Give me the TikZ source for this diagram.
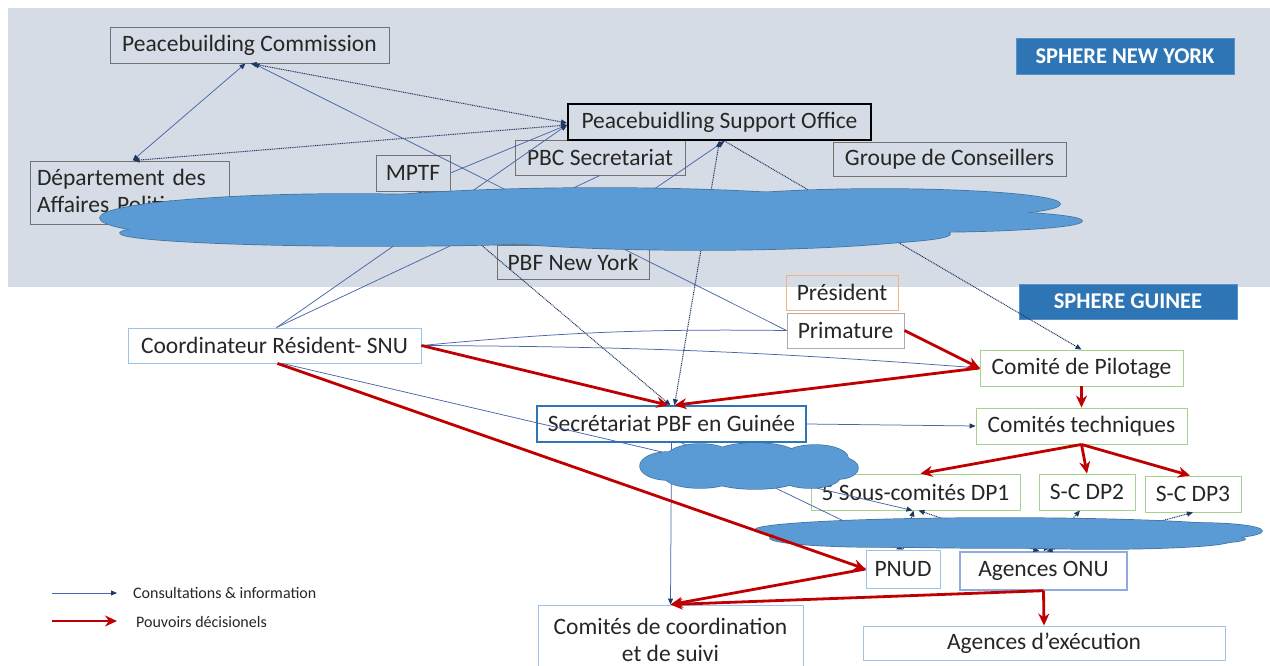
\documentclass[tikz,border=0pt]{standalone}
\usepackage{fontspec}
\setmainfont{Carlito}
\usetikzlibrary{arrows.meta,calc}
\definecolor{bgnav}{HTML}{D6DCE5}
\definecolor{spherefill}{HTML}{2E75B6}
\definecolor{cloudfill}{HTML}{5B9BD5}
\definecolor{cloudline}{HTML}{41719C}
\definecolor{boxgray}{HTML}{767171}
\definecolor{lblue}{HTML}{9DC3E6}
\definecolor{midblue}{HTML}{2E75B6}
\definecolor{onublue}{HTML}{8FAADC}
\definecolor{greenb}{HTML}{A9D18E}
\definecolor{orangeb}{HTML}{F4B183}
\definecolor{decred}{HTML}{C00000}
\definecolor{infoline}{HTML}{4A66A8}
\definecolor{tipnavy}{HTML}{1F3864}
\definecolor{txt}{HTML}{262626}
\tikzset{
  bx/.style={draw=boxgray, line width=0.9pt, inner sep=0pt, text=txt, font=\fontsize{23.5}{27}\selectfont},
  sphere/.style={fill=spherefill, draw=spherefill!80!white, inner sep=0pt, text=white, font=\bfseries\fontsize{22.5}{26}\selectfont, minimum width=218pt, minimum height=36pt},
  info/.style={draw=infoline, line width=0.75pt},
  dot/.style={draw=tipnavy, line width=1pt, dash pattern=on 1pt off 0.8pt},
  dec/.style={draw=decred, line width=2.8pt, -{Stealth[length=12pt,width=11pt]}},
  cloudedge/.style={draw=cloudline, line width=1.4pt},
  cloudbody/.style={fill=cloudfill},
  legendtext/.style={anchor=west, inner sep=0pt, text=txt, font=\fontsize{16}{18}\selectfont},
  >={Triangle[length=6pt,width=5pt,color=tipnavy]}
}
\begin{document}
\begin{tikzpicture}[x=1pt,y=-1pt]
\useasboundingbox (0,0) rectangle (1270,666);
\fill[bgnav] (8,8) rectangle (1270,287);

% nodes
\node[bx, minimum width=279pt, minimum height=36pt] (pbc) at (249.5,45) {Peacebuilding Commission};
\node[bx, minimum width=199pt, minimum height=63pt, text width=185pt, align=left] (dap) at (129.5,192.5) {Département des\\Affaires Politiques};
\node[bx, minimum width=74pt, minimum height=36pt] (mptf) at (413,173) {MPTF};
\node[bx, minimum width=170pt, minimum height=35pt] (pbcsec) at (600,157.5) {PBC Secretariat};
\node[bx, draw=black, line width=2pt, minimum width=303pt, minimum height=36pt] (pso) at (719.5,122) {Peacebuidling Support Office};
\node[bx, minimum width=233pt, minimum height=34pt] (gdc) at (949.5,159) {Groupe de Conseillers};
\node[bx, minimum width=152pt, minimum height=34pt] (pbfny) at (573,262) {PBF New York};
\node[sphere] (sny) at (1125,56) {SPHERE NEW YORK};
\node[sphere, minimum height=35pt] (sg) at (1128,301.5) {SPHERE GUINEE};
\node[bx, draw=orangeb, minimum width=112pt, minimum height=35pt] (pres) at (842,292.5) {Président};
\node[bx, draw=boxgray!60, minimum width=117pt, minimum height=35pt] (prim) at (845.5,330.5) {Primature};
\node[bx, draw=lblue, minimum width=293pt, minimum height=35pt] (crs) at (274.5,345.5) {Coordinateur Résident- SNU};
\node[bx, draw=greenb, minimum width=203pt, minimum height=36pt] (cdp) at (1081.5,368) {Comité de Pilotage};
\node[bx, draw=midblue, line width=1.5pt, minimum width=269pt, minimum height=36pt] (spbf) at (671.5,424) {Secrétariat PBF en Guinée};
\node[bx, draw=greenb, minimum width=211pt, minimum height=36pt] (ct) at (1081.5,426) {Comités techniques};
\node[bx, draw=greenb, minimum width=209pt, minimum height=36pt] (sc1) at (915.5,492) {5 Sous-comités DP1};
\node[bx, draw=greenb, minimum width=96pt, minimum height=36pt] (sc2) at (1087,492) {S-C DP2};
\node[bx, draw=greenb, minimum width=96pt, minimum height=36pt] (sc3) at (1193,494) {S-C DP3};
\node[bx, draw=lblue, minimum width=74pt, minimum height=38pt] (pnud) at (903,569) {PNUD};
\node[bx, draw=onublue, line width=1.4pt, minimum width=167pt, minimum height=38pt] (aonu) at (1043.5,571) {Agences ONU};
\node[bx, draw=lblue, minimum width=265pt, minimum height=70pt, align=center] (ccs) at (670.5,640) {Comités de coordination\\et de suivi};
\node[bx, draw=lblue, minimum width=362pt, minimum height=34pt] (aex) at (1044,643) {Agences d’exécution};

% consultation & information links
\draw[info, <->] ([xshift=3pt]dap.north) -- ([xshift=-4pt]pbc.south);
\draw[dot, <->] ([xshift=1pt]pbc.south) -- ([yshift=-1pt]pso.west);
\draw[dot, <->] ([xshift=4pt]dap.north) -- ([yshift=-3pt]pso.west);
\draw[info, ->] (prim.west) -- ([xshift=4pt]pbc.south);
\draw[info, ->] (mptf.east) -- ([yshift=-3pt]pso.west);
\draw[info, ->] ([xshift=2pt]crs.north) -- ([yshift=-3pt]pso.west);
\draw[info] ([xshift=2pt]crs.north) -- (pbcsec.south);
\draw[info, ->] (pbfny.north) -- ([xshift=5pt]pso.south);
\draw[dot, <->] ([xshift=3pt]spbf.north) -- (pso.south);
\draw[dot, ->] ([xshift=5pt]pso.south) -- (cdp.north);
\draw[dot, <->] ([xshift=5pt]mptf.south) -- ([xshift=-1pt]spbf.north);
\draw[info] (crs.east) to[bend left=3] (prim.west);
\draw[info] (crs.east) to[bend left=2] (cdp.west);
\draw[info, ->] (spbf.east) -- (ct.west);
\draw[info, ->] (spbf.south) -- (ccs.north);
\draw[info, ->] ([xshift=8pt]crs.south) -- ([xshift=-3pt]sc1.south);
\draw[info, ->] ([xshift=10pt]spbf.south) -- (pnud.north);
\draw[dot, <->] (pnud.north) -- ([xshift=-2pt]sc1.south);
\draw[dot, <->] ([xshift=-4pt]aonu.north) -- ([xshift=3pt]sc1.south);
\draw[dot, <->] (aonu.north) -- ([xshift=-7pt]sc2.south);
\draw[dot, <->] ([xshift=3pt]aonu.north) -- (sc3.south);

% clouds (unions of ellipses)
\def\bigcloud{350/218/250/24, 380/233/260/13, 600/214/300/26, 700/230/250/20, 880/204/180/15, 920/221/162/11, 800/234/150/11}
\def\longcloud{1000/530/245/12, 1010/539/235/9, 880/538/110/9, 1200/531/62/8, 1100/541/130/8}
\def\smallcloud{668/466/28/14, 700/458/34/14, 755/455/42/12, 815/458/33/13, 838/468/20/11, 810/477/30/11, 755/478/45/11, 700/477/35/11, 750/467/80/15}
\foreach \cx/\cy/\rx/\ry in \bigcloud
  \draw[cloudedge] (\cx,\cy) ellipse [x radius=\rx pt, y radius=\ry pt];
\foreach \cx/\cy/\rx/\ry in \bigcloud
  \fill[cloudbody] (\cx,\cy) ellipse [x radius=\rx pt, y radius=\ry pt];
\foreach \cx/\cy/\rx/\ry in \longcloud
  \draw[cloudedge] (\cx,\cy) ellipse [x radius=\rx pt, y radius=\ry pt];
\foreach \cx/\cy/\rx/\ry in \longcloud
  \fill[cloudbody] (\cx,\cy) ellipse [x radius=\rx pt, y radius=\ry pt];
\foreach \cx/\cy/\rx/\ry in \smallcloud
  \draw[cloudedge] (\cx,\cy) ellipse [x radius=\rx pt, y radius=\ry pt];
\foreach \cx/\cy/\rx/\ry in \smallcloud
  \fill[cloudbody] (\cx,\cy) ellipse [x radius=\rx pt, y radius=\ry pt];

% decision links
\draw[dec] (crs.east) -- ([xshift=-3pt]spbf.north);
\draw[dec] (prim.east) -- (cdp.west);
\draw[dec] (cdp.west) -- ([xshift=3pt]spbf.north);
\draw[dec] (cdp.south) -- (ct.north);
\draw[dec] (ct.south) -- ([xshift=5pt]sc1.north);
\draw[dec] (ct.south) -- (sc2.north);
\draw[dec] (ct.south) -- ([xshift=-3pt]sc3.north);
\draw[dec] ([xshift=3pt]crs.south) -- (pnud.west);
\draw[dec] (pnud.west) -- (ccs.north);
\draw[dec] (aonu.south) -- (ccs.north);
\draw[dec] (aonu.south) -- (aex.north);

% legend
\coordinate (l1a) at (52,593);
\coordinate (l1b) at (117,593);
\coordinate (l2a) at (52,621);
\coordinate (l2b) at (117,621);
\draw[info, ->] (l1a) -- (l1b);
\draw[dec] (l2a) -- (l2b);
\node[legendtext] (l1t) at (133,593) {Consultations \& information};
\node[legendtext] (l2t) at (136,622) {Pouvoirs décisionels};
\end{tikzpicture}
\end{document}
